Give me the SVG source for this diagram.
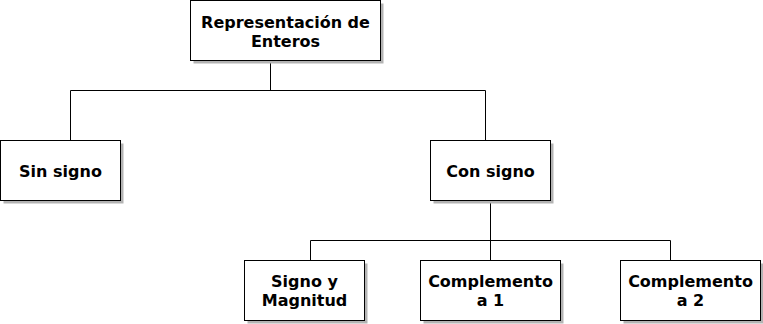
<svg xmlns="http://www.w3.org/2000/svg" width="763" height="324" viewBox="0 0 763 324">
<style>
.box{fill:#ffffff;stroke:#000000;stroke-width:1}
.shadow{fill:#b3b3b3;stroke:none}
.lbl{font-family:"DejaVu Sans",Verdana,sans-serif;font-weight:bold;font-size:16px;fill:#000000;text-anchor:middle}
.conn{fill:none;stroke:#000000;stroke-width:1}
</style>
<rect width="763" height="324" fill="#ffffff"/>
<g id="connectors">
<path class="conn" d="M270.5 60.5 V90.5 M70.5 90.5 H485.5 M70.5 90.5 V140.5 M485.5 90.5 V140.5"/>
<path class="conn" d="M490.5 200.5 V260.5 M310.5 240.5 H670.5 M310.5 240.5 V260.5 M670.5 240.5 V260.5"/>
</g>
<g id="node-root">
<rect class="shadow" x="193.5" y="3.5" width="190" height="60"/>
<rect class="box" x="190.5" y="0.5" width="190" height="60"/>
<text class="lbl" x="285.5" y="28">Representación de</text>
<text class="lbl" x="285.5" y="47">Enteros</text>
</g>
<g id="node-sinsigno">
<rect class="shadow" x="3.5" y="143.5" width="120" height="60"/>
<rect class="box" x="0.5" y="140.5" width="120" height="60"/>
<text class="lbl" x="60.5" y="176.5">Sin signo</text>
</g>
<g id="node-consigno">
<rect class="shadow" x="433.5" y="143.5" width="120" height="60"/>
<rect class="box" x="430.5" y="140.5" width="120" height="60"/>
<text class="lbl" x="490.5" y="176.5">Con signo</text>
</g>
<g id="node-signomagnitud">
<rect class="shadow" x="247.5" y="263.5" width="120" height="60"/>
<rect class="box" x="244.5" y="260.5" width="120" height="60"/>
<text class="lbl" x="304.5" y="286.5">Signo y</text>
<text class="lbl" x="304.5" y="305.5">Magnitud</text>
</g>
<g id="node-comp1">
<rect class="shadow" x="423.5" y="263.5" width="140" height="60"/>
<rect class="box" x="420.5" y="260.5" width="140" height="60"/>
<text class="lbl" x="490.5" y="286.5">Complemento</text>
<text class="lbl" x="490.5" y="305.5">a 1</text>
</g>
<g id="node-comp2">
<rect class="shadow" x="623.5" y="263.5" width="140" height="60"/>
<rect class="box" x="620.5" y="260.5" width="140" height="60"/>
<text class="lbl" x="690.5" y="286.5">Complemento</text>
<text class="lbl" x="690.5" y="305.5">a 2</text>
</g>
</svg>
